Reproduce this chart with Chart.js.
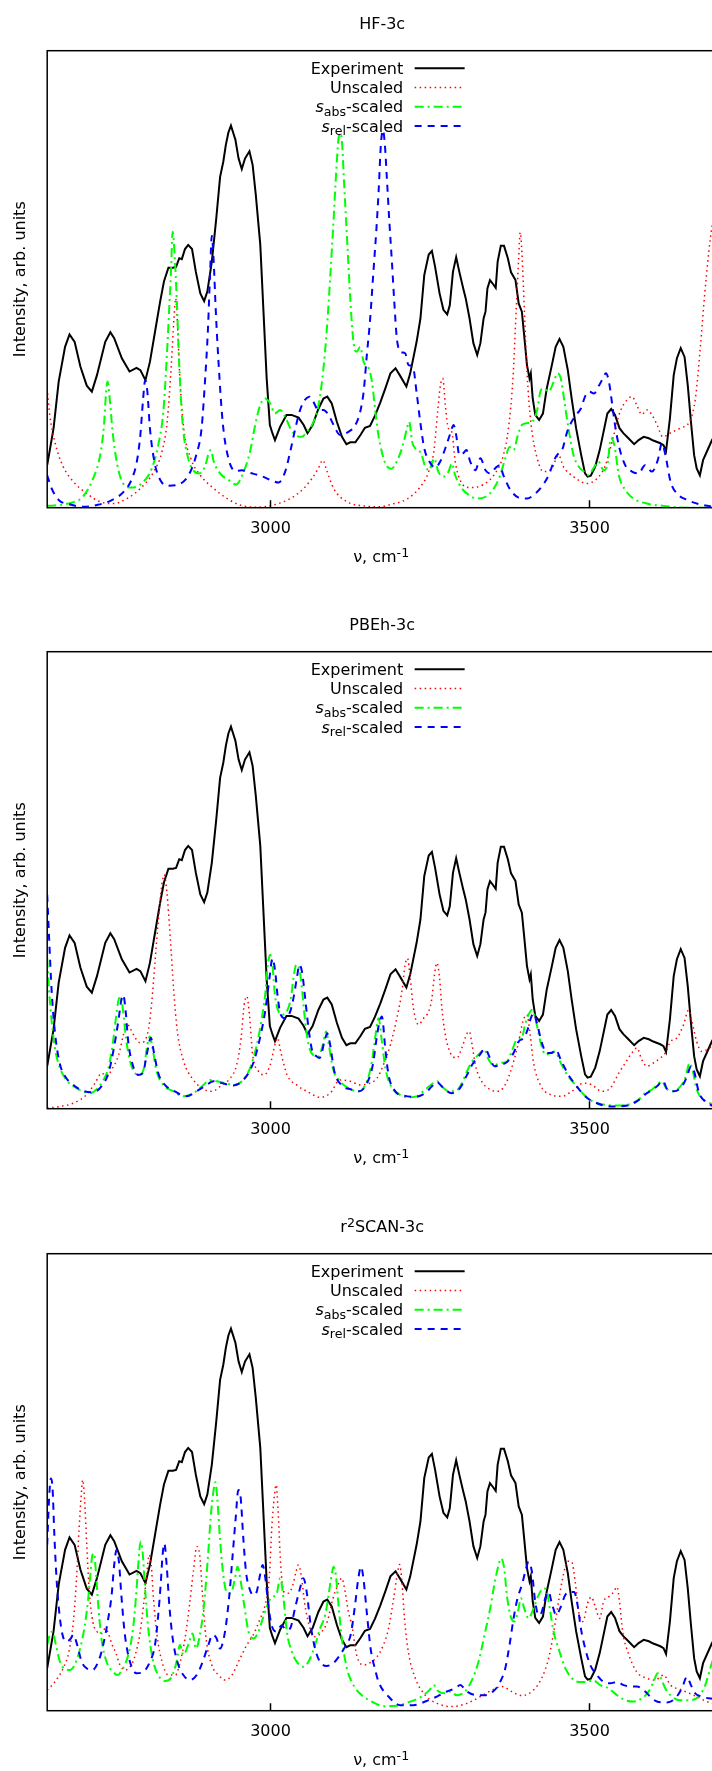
<!DOCTYPE html>
<html>
<head>
<meta charset="utf-8">
<title>IR spectra, 3c methods</title>
<script src="https://cdn.jsdelivr.net/npm/chart.js@4.4.1/dist/chart.umd.min.js"></script>
<style>
  html, body { margin: 0; padding: 0; background: #fff; overflow: hidden; }
  body { width: 712px; height: 1771px; position: relative; }
  canvas { position: absolute; left: 0; }
</style>
</head>
<body>
<canvas id="hfChart" width="720" height="601" style="top:0px"></canvas>
<canvas id="pbehChart" width="720" height="601" style="top:601px"></canvas>
<canvas id="r2scanChart" width="720" height="601" style="top:1203px"></canvas>
<script>
// ---- data: wavenumber (cm-1), intensity (arb. units, 0-100) ----
const xTicks = [3000, 3500];
// panel titles as text pieces (sup = superscript)
const methodTitles = [
  [{ t: "HF-3c" }],
  [{ t: "PBEh-3c" }],
  [{ t: "r" }, { t: "2", sup: true }, { t: "SCAN-3c" }]
];
const xTitle = [{ t: "ν, cm" }, { t: "-1", sup: true }];
const yTitle = "Intensity, arb. units";

const experiment = [
  [2650,9.3],[2660,17.4],[2668,27.6],[2678,35.2],[2685,37.9],[2693,36.3],[2702,30.9],[2712,26.7],[2720,25.4],[2728,29.0],
  [2741,36.3],[2749,38.4],[2755,37.1],[2767,32.7],[2779,29.8],[2790,30.6],[2796,30.1],[2804,27.9],[2811,31.9],[2819,38.5],
  [2827,45.1],[2833,49.5],[2840,52.5],[2847,52.5],[2852,52.7],[2857,54.6],[2861,54.4],[2866,56.6],[2871,57.5],[2877,56.6],
  [2883,51.6],[2890,46.9],[2896,45.2],[2901,47.3],[2908,53.8],[2915,63.3],[2921,72.4],[2926,75.7],[2930,79.4],[2934,82.1],
  [2938,83.6],[2945,80.5],[2950,76.4],[2955,74.1],[2960,76.4],[2967,78.0],[2972,75.0],[2977,68.4],[2984,57.5],[2989,42.9],
  [2994,28.3],[2999,18.1],[3003,16.3],[3007,14.8],[3015,17.7],[3025,20.3],[3033,20.3],[3044,19.7],[3052,18.1],[3058,16.3],
  [3066,18.1],[3075,21.6],[3083,23.9],[3089,24.3],[3096,22.8],[3104,18.8],[3112,15.5],[3119,13.9],[3125,14.3],[3133,14.3],
  [3141,15.9],[3148,17.5],[3156,17.9],[3164,20.2],[3172,23.0],[3180,26.1],[3188,29.4],[3196,30.5],[3203,28.9],[3213,26.5],
  [3219,29.4],[3229,36.3],[3235,41.4],[3241,50.9],[3248,55.4],[3253,56.2],[3258,52.7],[3265,46.9],[3271,43.3],[3277,42.3],
  [3281,44.3],[3286,51.6],[3291,54.8],[3296,51.6],[3302,48.0],[3306,45.8],[3312,41.4],[3318,36.0],[3324,33.4],[3329,36.0],
  [3334,41.4],[3337,42.9],[3340,48.0],[3344,49.8],[3349,48.9],[3353,48.1],[3356,53.8],[3361,57.3],[3366,57.3],[3372,54.6],
  [3377,51.5],[3384,49.8],[3389,44.7],[3394,42.9],[3398,37.1],[3402,31.2],[3406,28.3],[3408,29.4],[3411,23.9],[3415,20.3],
  [3421,19.2],[3427,20.6],[3433,26.1],[3441,31.2],[3447,35.2],[3453,36.9],[3459,35.2],[3466,30.1],[3472,23.9],[3479,17.4],
  [3487,11.5],[3493,7.5],[3497,6.8],[3502,7.0],[3509,9.0],[3516,12.6],[3522,16.6],[3528,20.6],[3534,21.6],[3540,20.3],
  [3547,17.4],[3553,16.3],[3561,15.2],[3570,13.9],[3577,14.8],[3585,15.5],[3593,15.2],[3600,14.7],[3611,14.1],[3616,13.7],
  [3620,12.4],[3626,19.5],[3632,29.0],[3637,32.7],[3643,34.9],[3649,33.0],[3654,26.8],[3659,18.8],[3664,11.5],[3668,8.6],
  [3673,7.1],[3678,10.4],[3684,12.3],[3692,14.8],[3700,16.5]
];

// HF-3c
const hfUnscaled = [
  [2650,26.1],[2654,20.3],[2662,14.4],[2675,9.0],[2691,5.7],[2712,3.1],[2733,1.3],[2754,0.9],[2775,2.0],[2796,4.2],
  [2817,7.9],[2830,12.3],[2838,18.8],[2844.5,31.2],[2848.7,41.4],[2851.3,45.8],[2854,40.7],[2858,28.3],[2864,17.4],[2875,10.8],
  [2890,7.1],[2911,4.2],[2932,2.0],[2952,0.6],[2979,0.1],[3005,0.6],[3031,2.0],[3052,4.2],[3065,6.4],[3075,8.6],
  [3082,10.4],[3088,8.2],[3099,4.2],[3120,1.3],[3146,0.4],[3172,0.2],[3188,0.7],[3214,1.9],[3235,4.6],[3248,7.9],
  [3256,12.3],[3262,21.0],[3266,26.5],[3270,28.3],[3274,22.5],[3277.5,18.1],[3281,16.9],[3284,16.6],[3289.5,10.1],[3297,6.1],
  [3313,4.4],[3334,5.1],[3352,7.5],[3365,11.5],[3373,17.4],[3380,28.3],[3385,42.9],[3389,54.6],[3391.4,60.2],[3394,56.0],
  [3398,42.9],[3402,29.8],[3408,18.8],[3418,10.8],[3428,7.9],[3441,8.6],[3451.5,11.5],[3459,9.0],[3475,6.8],[3496,5.3],
  [3512,6.4],[3525,9.3],[3538,15.9],[3548,21.0],[3559,23.6],[3566.5,24.3],[3574,22.5],[3582,20.4],[3590,21.4],[3598,20.3],
  [3606,18.1],[3615,15.5],[3626,16.3],[3642,17.4],[3658,19.2],[3666,23.9],[3674,35.6],[3680,45.8],[3687,56.0],[3692,61.5],
  [3700,66.0]
];
const hfAbs = [
  [2650,0.4],[2670,0.6],[2691,1.2],[2706,2.4],[2722,6.4],[2733,11.5],[2739,18.1],[2742,24.7],[2744.5,27.6],[2748,23.9],
  [2752.5,16.6],[2760,9.3],[2769,5.3],[2782,4.4],[2798,5.3],[2814,8.6],[2824,13.7],[2832,21.0],[2837,31.9],[2841,42.9],
  [2844,51.6],[2846.6,60.4],[2850,54.6],[2853,45.8],[2857,31.2],[2862,18.8],[2871,10.8],[2879,8.2],[2888,7.5],[2898,9.3],
  [2903,11.9],[2906.5,12.6],[2911,10.1],[2921,7.5],[2934,6.1],[2946,5.1],[2958,7.9],[2968,12.3],[2976,18.1],[2984,22.5],
  [2991.6,23.9],[2999.5,22.8],[3007,20.6],[3015,21.4],[3023,19.9],[3031,17.4],[3039,15.9],[3049,15.5],[3057,16.6],[3065,18.1],
  [3073,21.0],[3078,24.7],[3083,30.5],[3088,38.5],[3093.5,50.2],[3099,63.3],[3103,73.5],[3106.6,80.8],[3109.2,81.9],[3112,80.1],
  [3115.5,70.6],[3120,58.9],[3125,45.8],[3130,36.3],[3135,34.1],[3140.6,35.2],[3146,31.9],[3154,30.5],[3159,27.6],[3164,21.5],
  [3169,16.0],[3172,13.7],[3180,9.7],[3189,8.5],[3198,10.1],[3207.5,13.7],[3214,17.4],[3217.4,18.8],[3222,14.4],[3227,13.0],
  [3232,12.6],[3237,11.5],[3242.5,9.0],[3249,8.2],[3256.6,10.8],[3263,7.9],[3271,6.8],[3279,7.9],[3284.3,9.7],[3289.5,7.1],
  [3300,4.2],[3313,2.6],[3323.5,2.0],[3337,2.4],[3350,4.2],[3360,7.1],[3368,10.8],[3374.7,13.3],[3381,12.6],[3387,15.5],
  [3394,18.1],[3402,18.5],[3410,18.8],[3418,21.4],[3423,25.4],[3428,26.1],[3436,25.4],[3444,27.6],[3450,29.4],[3455,28.3],
  [3460,23.9],[3467,17.4],[3475,11.5],[3483,9.0],[3491,7.9],[3498.5,7.1],[3506,8.6],[3514,10.1],[3522,8.2],[3528,9.3],
  [3533.5,15.2],[3539,13.7],[3546,7.1],[3556,3.9],[3569,2.0],[3590,0.9],[3616,0.4],[3653,0.0],[3700,0.0]
];
const hfRel = [
  [2650,7.1],[2657,4.2],[2668,1.7],[2686,0.7],[2707,0.2],[2728,0.6],[2749,1.5],[2770,3.5],[2783,6.4],[2790.5,10.1],
  [2796,15.9],[2800,23.2],[2803.6,27.9],[2807,25.4],[2811,17.4],[2818,10.1],[2827,6.1],[2840,4.8],[2856,5.1],[2871.5,7.1],
  [2883.5,11.5],[2892,17.4],[2897.6,28.3],[2902,39.2],[2905.4,51.6],[2908,59.5],[2910.7,54.6],[2914.3,42.9],[2918.5,31.9],[2925,18.8],
  [2934,10.8],[2945,8.0],[2955,8.2],[2965.5,7.7],[2984,7.0],[2999.5,6.1],[3012.6,5.5],[3023,7.9],[3031,12.3],[3039,17.4],
  [3046.5,21.4],[3054,23.6],[3061,24.3],[3067,23.2],[3075,21.4],[3083,21.4],[3091,20.3],[3099,18.1],[3109,15.9],[3122,16.6],
  [3133,18.1],[3140.6,21.0],[3146,25.4],[3151,33.4],[3156,41.0],[3161.5,52.0],[3166,61.0],[3169.4,69.0],[3173,79.4],[3176.2,82.6],
  [3179.3,79.4],[3182.4,72.1],[3186.6,61.9],[3190.3,53.8],[3194,45.1],[3198,37.1],[3204,34.1],[3211,33.8],[3216.4,31.2],[3223,30.9],
  [3229.4,24.7],[3234.7,18.8],[3241,13.0],[3249,10.1],[3258,8.8],[3266,10.1],[3274,13.0],[3282,16.3],[3287,18.1],[3291,15.9],
  [3296,11.5],[3302,11.9],[3307,12.6],[3313,10.1],[3321,8.2],[3329,10.8],[3337,8.2],[3344,7.5],[3352,8.6],[3359,9.3],
  [3365,7.1],[3376,3.9],[3389,2.2],[3402,2.0],[3415,3.1],[3425,4.6],[3436,7.1],[3446,10.8],[3451.5,11.9],[3457,12.6],
  [3465,16.6],[3472,18.8],[3479,20.3],[3486.5,21.7],[3493,24.3],[3500,25.4],[3507,25.0],[3514,26.5],[3521,28.3],[3525.7,29.4],
  [3530,27.9],[3535,23.2],[3540,18.1],[3547,13.0],[3556,9.3],[3566.5,7.9],[3577,7.5],[3587,9.3],[3598,7.9],[3607,10.4],
  [3613.5,14.1],[3619,11.5],[3627,5.7],[3637,3.1],[3653,1.7],[3674,0.7],[3700,0.1]
];

// PBEh-3c
const pbehUnscaled = [
  [2650,0.1],[2670,0.5],[2691,1.2],[2712,3.1],[2725,5.6],[2735.5,7.8],[2743,7.1],[2751,8.5],[2762,11.8],[2769.5,16.2],
  [2774.7,18.7],[2780,17.6],[2788,15.5],[2796,14.4],[2802,14.7],[2809,17.6],[2814,23.5],[2819,32.2],[2824.5,41.7],[2829.7,49.0],
  [2833.4,51.2],[2837.5,47.5],[2843,37.3],[2848,26.4],[2854,16.9],[2864,10.3],[2877,6.7],[2892,4.5],[2908,3.8],[2924,5.2],
  [2937,6.7],[2947,9.6],[2954,15.5],[2958.7,22.7],[2962.9,24.6],[2967,20.6],[2972,11.8],[2981,8.2],[2990,7.4],[2999.5,9.6],
  [3007,14.0],[3011,15.5],[3016,12.5],[3026,7.4],[3041,5.2],[3057,3.8],[3078,2.5],[3093.5,3.4],[3109,6.3],[3125,6.0],
  [3141,5.2],[3156,5.6],[3167,6.7],[3177,9.6],[3188,14.0],[3198,19.8],[3206,25.7],[3211,31.5],[3214.8,32.9],[3219,28.6],
  [3224,22.0],[3232,18.4],[3240,19.8],[3248,21.3],[3253,24.2],[3257,29.3],[3260.8,31.9],[3265,28.6],[3268.6,22.0],[3274,16.2],
  [3282,12.2],[3292,11.1],[3300,13.3],[3307,16.2],[3311.5,16.9],[3316,14.0],[3321,9.6],[3331,6.0],[3344,4.2],[3357.5,3.8],
  [3370.5,6.0],[3381,10.3],[3389,14.7],[3395.6,19.1],[3401.9,20.6],[3407,16.2],[3412,10.3],[3423,5.2],[3438.5,3.1],[3457,2.7],
  [3472,3.8],[3491,5.6],[3504,5.2],[3519,3.8],[3532.5,4.5],[3546,7.8],[3556,10.0],[3566.5,12.2],[3574.3,13.3],[3582,10.7],
  [3590,9.3],[3600,10.0],[3611,11.1],[3619,12.2],[3627,14.7],[3637,15.5],[3647.5,18.4],[3655.3,21.6],[3660.5,19.1],[3668,14.7],
  [3676,12.5],[3684,12.9],[3692,13.6],[3700,14.0]
];
const pbehAbs = [
  [2650,32.9],[2653,25.7],[2657,19.1],[2662,13.3],[2670,8.9],[2680,6.3],[2691,4.9],[2704,3.9],[2717,3.4],[2727,4.2],
  [2738,6.3],[2746,8.9],[2752.5,14.0],[2757.7,19.8],[2761.4,23.5],[2765,24.6],[2769,21.3],[2773.4,15.5],[2780,10.3],[2787.5,7.8],
  [2795.4,7.4],[2801.6,8.9],[2807,14.0],[2811,15.8],[2815,13.3],[2821.5,8.2],[2832,5.2],[2848,3.8],[2863,2.7],[2879,3.4],
  [2895,5.2],[2905,6.3],[2916,6.0],[2929,5.6],[2942,5.2],[2955,6.0],[2968,8.9],[2978.6,14.0],[2986.4,19.8],[2991.6,24.9],
  [2995.8,31.5],[2999.5,33.7],[3003,31.5],[3007,24.9],[3012.5,21.3],[3019,20.6],[3025.6,21.3],[3032,24.2],[3036,28.6],[3040.3,31.5],
  [3045.5,30.4],[3049.7,25.7],[3054.3,19.1],[3059.6,14.0],[3066.4,11.8],[3075,11.4],[3082,14.0],[3087.2,16.9],[3091.4,14.0],[3097.7,8.9],
  [3109,6.0],[3122,4.5],[3138,3.8],[3151,6.0],[3159,10.3],[3164,15.5],[3169.4,19.8],[3174.6,14.7],[3180,8.9],[3188,5.2],
  [3201,3.2],[3216,2.5],[3229,2.7],[3242.5,4.2],[3253,5.4],[3260.8,6.0],[3268.6,4.9],[3279,3.8],[3289.5,3.8],[3300,5.6],
  [3308,8.2],[3316,10.3],[3326,11.8],[3335,12.9],[3342,10.7],[3350,9.5],[3360,10.0],[3370.5,10.3],[3378,12.5],[3386,15.1],
  [3394,15.5],[3399,18.4],[3404.5,20.6],[3409.7,21.6],[3415,19.8],[3423,14.7],[3431,11.8],[3438.5,12.2],[3446,12.5],[3454,10.3],
  [3465,7.4],[3478,5.2],[3491,3.1],[3506,1.5],[3522,0.9],[3543,0.7],[3564,1.0],[3577,2.0],[3587,3.4],[3598,4.2],
  [3606,5.2],[3613.5,6.0],[3620,4.5],[3629,3.8],[3640,4.5],[3650,6.7],[3657,10.0],[3662,8.2],[3668,4.2],[3679,2.0],
  [3692,1.0],[3700,0.7]
];
const pbehRel = [
  [2650,46.8],[2653,37.3],[2657,25.7],[2662,16.9],[2669,10.3],[2678,7.1],[2691,5.2],[2706.5,3.9],[2722,3.6],[2735,4.9],
  [2746,7.8],[2754.6,13.3],[2761.4,19.1],[2766.7,24.2],[2769.2,24.9],[2773,21.3],[2777,14.7],[2784,9.6],[2793,7.4],[2800,7.8],
  [2806,11.8],[2812.6,15.5],[2817,12.5],[2824,7.8],[2834.5,5.2],[2850,3.8],[2868.5,2.7],[2884,3.8],[2900,5.2],[2910.4,6.0],
  [2923.5,5.6],[2942,5.1],[2957.5,6.3],[2973,10.0],[2983.6,15.5],[2991.6,21.3],[2998.4,28.6],[3003.1,32.9],[3007,30.4],[3011.5,24.2],
  [3016,20.6],[3023,19.8],[3030,20.9],[3036,24.2],[3041.3,28.6],[3045.5,31.5],[3049.7,29.7],[3054.3,24.2],[3059.6,17.6],[3065,12.9],
  [3072.6,11.4],[3077,11.1],[3084.6,14.7],[3088.8,16.5],[3093.5,14.0],[3100,8.2],[3111,5.2],[3126.5,4.2],[3139.5,3.8],[3152.6,6.0],
  [3160.4,9.6],[3166,15.1],[3170,18.5],[3174.6,20.2],[3179.8,13.3],[3185,7.4],[3195.5,3.8],[3208.6,2.9],[3227,2.6],[3242.5,3.4],
  [3253,4.9],[3260.8,5.8],[3271,4.5],[3284,3.4],[3297,4.5],[3308,7.4],[3316,9.6],[3326,11.4],[3336.6,13.1],[3343,11.4],
  [3351,9.3],[3360,9.6],[3371.6,10.3],[3381,12.2],[3389,14.7],[3397,15.5],[3403,17.3],[3408,19.8],[3412.3,20.9],[3417.6,18.7],
  [3425.4,14.4],[3433,12.2],[3441,12.2],[3447.3,12.9],[3455,10.7],[3467,7.4],[3480,4.9],[3493,2.7],[3512,1.2],[3532.5,0.5],
  [3559,0.7],[3574,1.6],[3590,3.4],[3600,4.2],[3608,5.2],[3615,6.1],[3622,4.2],[3632,3.8],[3645,4.9],[3653,7.1],
  [3659,9.3],[3664,8.2],[3671,3.8],[3681,1.6],[3692,0.7],[3700,0.5]
];

// r2SCAN-3c
const r2scanUnscaled = [
  [2650,4.5],[2662,6.3],[2675,9.3],[2684,12.9],[2691,19.5],[2696,29.0],[2700,39.9],[2703,46.5],[2705.8,50.5],[2708.5,46.5],
  [2712,36.3],[2716,26.0],[2721.5,19.5],[2728,17.3],[2735,16.9],[2741,18.0],[2746,16.9],[2751,14.7],[2758,12.5],[2764,10.0],
  [2772,8.9],[2780,9.6],[2788,12.2],[2795,16.6],[2801,23.1],[2806,29.7],[2809.8,34.1],[2813,31.9],[2816.6,24.6],[2822,16.6],
  [2830,10.7],[2840,7.8],[2851,7.8],[2858.5,10.7],[2866,15.8],[2873,23.1],[2879,30.4],[2884.6,35.9],[2889,34.1],[2893.5,25.3],
  [2899,15.8],[2908,10.0],[2918.6,7.8],[2929,6.7],[2939.5,7.8],[2952.5,11.5],[2963,14.4],[2973,16.6],[2984,20.2],[2991.6,23.1],
  [2998,29.0],[3002,39.9],[3005.7,46.5],[3008.9,49.4],[3012,43.5],[3016,31.9],[3021,26.0],[3028,25.7],[3035,27.5],[3040,30.4],
  [3043.9,31.9],[3048,29.7],[3054,23.1],[3062,18.0],[3070,16.2],[3080.5,17.3],[3089,19.5],[3098,24.6],[3105.6,27.5],[3111.8,29.0],
  [3117,26.0],[3122,21.7],[3127.5,18.7],[3135,12.2],[3146,10.0],[3156,10.5],[3167,11.8],[3177,14.4],[3185,18.0],[3193,24.6],
  [3199,30.1],[3202.3,32.0],[3206,28.2],[3210,20.2],[3216,12.9],[3227,7.1],[3242.5,3.4],[3261,1.6],[3284,0.9],[3308,1.6],
  [3329,3.1],[3347,4.5],[3363,5.3],[3378,4.2],[3394,3.3],[3412,4.5],[3425,7.1],[3436,11.5],[3444,17.3],[3451.5,23.9],
  [3459,29.7],[3465.6,32.7],[3472,32.6],[3477.6,28.2],[3483,21.7],[3489.6,19.5],[3497,23.5],[3502.7,24.9],[3509,22.8],[3516,20.2],
  [3522,23.9],[3530,24.9],[3538,26.0],[3543,27.1],[3547,23.9],[3552,17.3],[3561,12.5],[3574,8.5],[3590,7.1],[3603,6.7],
  [3616,7.8],[3627,5.6],[3645,4.5],[3663,3.4],[3679,2.3],[3692,1.6],[3700,1.3]
];
const r2scanAbs = [
  [2650,14.4],[2654,16.6],[2658.4,17.3],[2663.6,14.4],[2670,10.7],[2678,9.1],[2685.5,8.9],[2693,10.0],[2701,13.3],[2709,18.7],
  [2714.3,24.6],[2718,30.4],[2721,34.1],[2723.6,34.4],[2726.3,30.4],[2730,23.1],[2735,15.8],[2743,10.7],[2753.5,8.5],[2759.7,7.8],
  [2769,9.3],[2777,12.2],[2784,17.3],[2789,24.6],[2792.7,31.9],[2796.4,37.0],[2799.5,34.8],[2803,27.5],[2808.4,18.0],[2815,11.5],
  [2824,7.8],[2834.5,6.5],[2845,7.4],[2852.8,10.7],[2858,14.4],[2863.3,12.2],[2871,14.4],[2877.9,16.9],[2883,13.6],[2889.4,16.6],
  [2895.7,23.1],[2901.4,32.6],[2906.2,42.1],[2910.4,47.9],[2913.5,50.0],[2916.6,46.5],[2920.8,37.7],[2926,29.7],[2931.3,26.0],[2937.5,25.7],
  [2943.3,28.2],[2948.3,31.5],[2952.5,29.0],[2958.8,23.1],[2965.5,17.3],[2973.4,15.8],[2981,17.3],[2988,20.2],[2994.3,22.8],[3002,24.9],
  [3009,25.3],[3015.2,29.0],[3020.4,24.6],[3025.6,17.3],[3033.4,12.9],[3041.3,10.7],[3051.7,9.6],[3061,11.1],[3070,14.4],[3077.8,18.0],
  [3085.7,20.9],[3091,25.3],[3095,29.0],[3098.8,31.5],[3102.4,29.7],[3106.6,23.1],[3111.8,15.8],[3119.7,9.3],[3130,5.6],[3143,3.4],
  [3159,2.0],[3177,1.0],[3198,1.1],[3219,2.0],[3237,3.1],[3249,4.5],[3255.6,5.6],[3263.4,4.2],[3274,3.8],[3281.7,4.2],
  [3292,3.4],[3305,4.2],[3315.7,6.7],[3326,10.7],[3336.6,17.3],[3344.4,22.4],[3350.7,27.5],[3357.5,31.9],[3361.6,33.3],[3366.3,31.1],
  [3370.5,25.3],[3375.8,20.9],[3382,19.5],[3387.8,21.7],[3392.5,24.6],[3397.7,22.4],[3404.5,20.2],[3412.3,22.4],[3420.2,25.3],[3428,26.8],
  [3433.2,26.0],[3438.5,21.7],[3443.7,17.3],[3451.5,13.6],[3462,9.3],[3472.4,7.1],[3483,6.3],[3496,6.3],[3505.3,6.7],[3516.8,5.6],
  [3530,4.9],[3543,3.4],[3556,2.3],[3569,2.0],[3582,2.7],[3592.6,4.2],[3600.4,6.3],[3606.7,8.2],[3612,7.1],[3618.7,4.9],
  [3629,3.1],[3642,2.3],[3658,2.3],[3671,3.1],[3681.4,5.6],[3689.3,9.3],[3700,14.0]
];
const r2scanRel = [
  [2650,36.3],[2653,46.5],[2655.7,50.8],[2658.4,48.7],[2661,39.2],[2664.6,29.0],[2668.8,21.7],[2674,16.6],[2680.3,15.1],[2687,15.8],
  [2690.8,16.6],[2697,14.4],[2704,10.7],[2711.7,9.3],[2721,8.9],[2730,10.7],[2737.8,14.4],[2745.7,20.2],[2751,25.3],[2755,31.9],
  [2758.7,35.2],[2762.4,32.6],[2766.6,24.6],[2771.8,16.6],[2779.7,10.7],[2790,8.2],[2800.6,8.5],[2811,10.7],[2819,14.4],[2824,20.9],
  [2827.8,27.5],[2830.9,34.1],[2833.6,36.6],[2837.2,31.9],[2841.4,23.1],[2846.7,15.8],[2854,10.7],[2863.4,7.8],[2873.8,6.7],[2884.3,7.8],
  [2893.7,10.7],[2902.6,14.4],[2909.4,16.6],[2915.6,15.8],[2920.8,13.6],[2928.7,17.3],[2935.5,25.3],[2940.7,34.1],[2945.4,42.1],[2949.6,48.3],
  [2953.3,46.5],[2957.4,37.7],[2961.6,30.4],[2966.9,26.8],[2973,25.3],[2978.3,26.0],[2983.6,29.7],[2987.7,31.9],[2991.9,29.0],[2996.6,23.1],
  [3001.8,18.7],[3009.7,17.3],[3017.5,18.7],[3024.3,17.7],[3030.6,18.0],[3038.4,22.4],[3046.3,26.8],[3051.5,29.0],[3056.7,26.0],[3063,18.7],
  [3069.8,13.6],[3077.6,10.7],[3088,9.8],[3098.5,10.4],[3109,12.2],[3118.4,14.4],[3125.7,16.6],[3132.5,23.1],[3137.7,29.0],[3141.9,31.5],
  [3145.6,29.0],[3150.8,21.7],[3157,13.5],[3164,9.0],[3169.4,6.3],[3185,3.1],[3203.3,1.2],[3224,1.2],[3242.5,2.0],[3260.8,3.1],
  [3276.5,4.2],[3289.5,4.9],[3297.4,5.6],[3307.8,4.2],[3323.5,3.4],[3336.6,3.4],[3349.6,4.3],[3360,6.3],[3368,9.3],[3374.7,14.4],
  [3381,20.2],[3387.2,24.6],[3394,27.5],[3399.3,30.4],[3404.5,32.6],[3409.7,30.4],[3414.9,23.9],[3420.2,20.9],[3425.4,21.7],[3430.6,24.6],
  [3435.8,26.0],[3441,23.5],[3447.9,20.9],[3454,22.4],[3462,25.3],[3469.8,26.0],[3476,26.0],[3481.3,23.1],[3486.5,18.0],[3493.3,13.6],
  [3501.2,10.0],[3511.6,7.8],[3522,6.3],[3532.5,6.0],[3543,6.3],[3553.4,5.6],[3564,5.3],[3574.3,5.3],[3584.8,4.5],[3595.2,3.1],
  [3605.6,2.0],[3621.3,1.8],[3634.4,2.7],[3644.8,4.9],[3652.7,7.4],[3659,5.6],[3665.7,3.8],[3676.2,3.1],[3686.6,2.7],[3700,2.6]
];

// ---- series styling and key text (pieces: normal / italic / subscript) ----
const seriesStyles = [
  { label: "Experiment",   color: "#000000", width: 2,   dash: [],            smooth: false },
  { label: "Unscaled",     color: "#ff0000", width: 1.5, dash: [1.5, 3.5],    smooth: true },
  { label: "s_abs-scaled", color: "#00ff00", width: 2,   dash: [9, 4, 2, 4],  smooth: true },
  { label: "s_rel-scaled", color: "#0000ff", width: 2,   dash: [7, 6],        smooth: true }
];
const keyText = [
  [{ t: "Experiment" }],
  [{ t: "Unscaled" }],
  [{ t: "s", it: true }, { t: "abs", sub: true }, { t: "-scaled" }],
  [{ t: "s", it: true }, { t: "rel", sub: true }, { t: "-scaled" }]
];

const FONT = '"DejaVu Sans", "Liberation Sans", sans-serif';
Chart.defaults.font.family = FONT;
Chart.defaults.color = "#000";

function pieceFont(p) {
  if (p.sub || p.sup) return `12.6px ${FONT}`;
  return p.it ? `italic 16px ${FONT}` : `16px ${FONT}`;
}

// draws a run of text pieces starting at x on the given baseline
function drawPieces(ctx, parts, x, baseline) {
  parts.forEach(p => {
    ctx.font = pieceFont(p);
    const dy = p.sub ? 3.5 : (p.sup ? -4.5 : 0);
    ctx.fillText(p.t, x, baseline + dy);
    x += ctx.measureText(p.t).width;
  });
}

function piecesWidth(ctx, parts) {
  return parts.reduce((w, p) => { ctx.font = pieceFont(p); return w + ctx.measureText(p.t).width; }, 0);
}

// frame around the plot area with inward x tick marks
const framePlugin = {
  id: "frame",
  afterDatasetsDraw(chart) {
    const { ctx, chartArea: a, scales: { x } } = chart;
    ctx.save();
    ctx.strokeStyle = "#000";
    ctx.lineWidth = 1.5;
    ctx.setLineDash([]);
    ctx.strokeRect(a.left, a.top, a.right - a.left, a.bottom - a.top);
    ctx.beginPath();
    x.ticks.forEach(t => {
      const px = x.getPixelForValue(t.value);
      ctx.moveTo(px, a.bottom);
      ctx.lineTo(px, a.bottom - 7.5);
    });
    ctx.stroke();
    ctx.restore();
  }
};

// gnuplot-like key: right-aligned text, line sample on the right
const keyPlugin = {
  id: "key",
  afterDraw(chart) {
    const { ctx, chartArea: a } = chart;
    const cx = (a.left + a.right) / 2;
    ctx.save();
    ctx.fillStyle = "#000";
    ctx.textAlign = "left";
    ctx.textBaseline = "alphabetic";
    chart.data.datasets.forEach((ds, i) => {
      const y = a.top + 17.6 + i * 19.2;
      const parts = keyText[i];
      drawPieces(ctx, parts, cx + 21 - piecesWidth(ctx, parts), y + 5.7);
      ctx.strokeStyle = ds.borderColor;
      ctx.lineWidth = ds.borderWidth;
      ctx.setLineDash(ds.borderDash);
      ctx.beginPath();
      ctx.moveTo(cx + 32.5, y);
      ctx.lineTo(cx + 82.5, y);
      ctx.stroke();
    });
    ctx.restore();
  }
};

// panel title above the frame and x axis label below the tick labels
function makeLabelPlugin(titleParts) {
  return {
    id: "labels",
    afterDraw(chart) {
      const { ctx, chartArea: a } = chart;
      const cx = (a.left + a.right) / 2;
      ctx.save();
      ctx.fillStyle = "#000";
      ctx.textAlign = "left";
      ctx.textBaseline = "alphabetic";
      drawPieces(ctx, titleParts, cx - piecesWidth(ctx, titleParts) / 2, a.top - 21.9);
      drawPieces(ctx, xTitle, cx - 1 - piecesWidth(ctx, xTitle) / 2, a.bottom + 54);
      ctx.restore();
    }
  };
}

function toPoints(arr) {
  return arr.map(([x, y]) => ({ x, y }));
}

function renderPanel(canvasId, titleParts, computed) {
  const all = [experiment, ...computed];
  new Chart(document.getElementById(canvasId), {
    type: "line",
    data: {
      datasets: all.map((arr, i) => ({
        label: seriesStyles[i].label,
        data: toPoints(arr),
        borderColor: seriesStyles[i].color,
        borderWidth: seriesStyles[i].width,
        borderDash: seriesStyles[i].dash,
        borderCapStyle: "butt",
        cubicInterpolationMode: seriesStyles[i].smooth ? "monotone" : "default",
        tension: 0,
        pointRadius: 0,
        pointHoverRadius: 0,
        fill: false,
        order: all.length - i
      }))
    },
    options: {
      responsive: false,
      animation: false,
      events: [],
      layout: { padding: { left: 0, right: 2.9, top: 50.7, bottom: 0 } },
      plugins: {
        legend: { display: false },
        tooltip: { enabled: false },
        title: { display: false }
      },
      scales: {
        x: {
          type: "linear",
          min: 2650,
          max: 3700,
          grid: { display: false, drawTicks: false },
          border: { display: false },
          afterBuildTicks: s => { s.ticks = xTicks.map(v => ({ value: v })); },
          afterFit: s => { s.height = 93.3; },
          ticks: {
            color: "#000",
            font: { family: FONT, size: 16 },
            padding: 11.5,
            maxRotation: 0,
            callback: v => String(v)
          }
        },
        y: {
          type: "linear",
          min: 0,
          max: 100,
          grid: { display: false, drawTicks: false },
          border: { display: false },
          ticks: { display: false },
          afterFit: s => { s.width = 47.2; },
          title: {
            display: true,
            text: yTitle,
            color: "#000",
            font: { family: FONT, size: 16 },
            padding: { top: 11, bottom: 0 }
          }
        }
      }
    },
    plugins: [framePlugin, keyPlugin, makeLabelPlugin(titleParts)]
  });
}

renderPanel("hfChart", methodTitles[0], [hfUnscaled, hfAbs, hfRel]);
renderPanel("pbehChart", methodTitles[1], [pbehUnscaled, pbehAbs, pbehRel]);
renderPanel("r2scanChart", methodTitles[2], [r2scanUnscaled, r2scanAbs, r2scanRel]);
</script>
</body>
</html>
